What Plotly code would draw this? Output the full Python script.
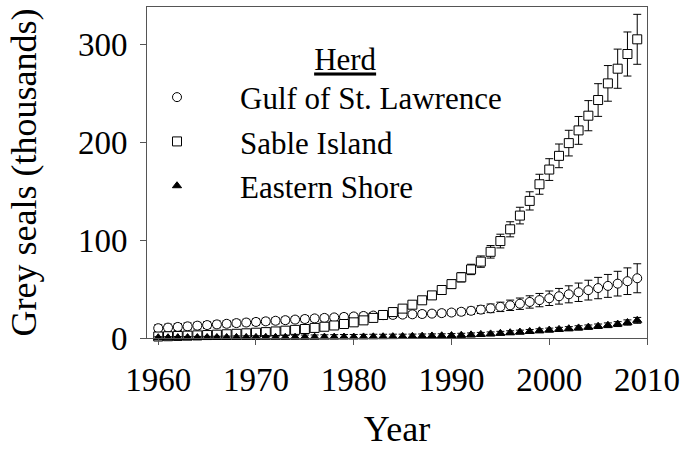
import plotly.graph_objects as go

years = list(range(1960, 2010))

gulf = [10.0, 10.6, 11.3, 11.9, 12.6, 13.2, 13.9, 14.5, 15.2, 15.8,
        16.4, 17.0, 17.6, 18.2, 18.8, 19.4, 20.0, 20.5, 21.0, 21.5,
        22.0, 22.5, 22.9, 23.3, 23.6, 23.9, 24.2, 24.5, 24.9, 25.4,
        26.0, 26.8, 27.8, 29.0, 30.3, 31.8, 33.4, 35.0, 36.8, 38.7,
        40.6, 42.6, 44.6, 46.7, 48.9, 51.0, 53.2, 55.5, 58.0, 61.0]
gulf_err = [3.5, 3.5, 3.5, 3.5, 3.4, 3.4, 3.4, 3.3, 3.3, 3.3,
            3.2, 3.2, 3.2, 3.1, 3.1, 3.1, 3.0, 3.0, 3.0, 3.0,
            3.0, 3.0, 3.0, 3.0, 3.0, 3.0, 3.0, 3.0, 3.0, 3.0,
            3.1, 3.3, 3.6, 4.0, 4.4, 4.8, 5.3, 5.8, 6.3, 6.8,
            7.4, 8.0, 8.7, 9.4, 10.1, 10.9, 11.7, 12.6, 13.6, 14.8]

sable = [1.5, 1.8, 2.1, 2.4, 2.7, 3.0, 3.4, 3.8, 4.3, 4.8,
         5.4, 6.0, 6.7, 7.5, 8.3, 9.2, 10.3, 11.5, 12.8, 14.3,
         16.0, 18.0, 20.5, 23.5, 26.5, 30.0, 34.0, 38.5, 43.5, 49.0,
         55.0, 62.0, 70.0, 78.0, 88.0, 99.0, 111.0, 125.0, 140.0, 157.0,
         172.0, 186.0, 199.0, 212.0, 227.0, 243.0, 260.0, 275.0, 290.0, 305.0]
sable_err = [0.5, 0.5, 0.6, 0.6, 0.7, 0.7, 0.8, 0.8, 0.9, 0.9,
             1.0, 1.0, 1.1, 1.1, 1.2, 1.2, 1.3, 1.4, 1.5, 1.6,
             1.7, 1.8, 2.0, 2.2, 2.4, 2.6, 2.8, 3.1, 3.5, 3.9,
             4.3, 4.8, 5.3, 5.8, 6.4, 7.0, 7.7, 8.5, 9.3, 10.2,
             11.1, 12.1, 13.1, 14.2, 15.4, 16.7, 18.2, 20.0, 22.5, 25.5]

eastern = [0.3, 0.3, 0.4, 0.4, 0.4, 0.5, 0.5, 0.5, 0.6, 0.6,
           0.6, 0.7, 0.7, 0.7, 0.8, 0.8, 0.8, 0.9, 0.9, 1.0,
           1.0, 1.1, 1.2, 1.3, 1.4, 1.5, 1.7, 1.9, 2.1, 2.3,
           2.5, 2.8, 3.2, 3.7, 4.2, 4.8, 5.4, 6.0, 6.7, 7.4,
           8.1, 8.8, 9.5, 10.3, 11.1, 12.0, 13.0, 14.2, 15.8, 18.0]
eastern_err = [1.0, 1.0, 1.1, 1.1, 1.2, 1.2, 1.3, 1.4, 1.5, 1.6,
               1.7, 1.8, 1.9, 2.0, 2.1, 2.2, 2.3, 2.4, 2.5, 2.6,
               2.6, 2.6, 2.6, 2.5, 2.5, 2.4, 2.3, 2.2, 2.1, 2.0,
               2.0, 2.0, 2.0, 2.0, 2.0, 2.0, 2.0, 2.0, 2.0, 2.0,
               2.0, 2.1, 2.1, 2.2, 2.2, 2.3, 2.4, 2.5, 2.7, 3.0]

series_names = ["Gulf of St. Lawrence", "Sable Island", "Eastern Shore"]
legend_title = "Herd"
x_title = "Year"
y_title = "Grey seals (thousands)"
x_ticks = [1960, 1970, 1980, 1990, 2000, 2010]
y_ticks = [0, 100, 200, 300]

FONT = "Liberation Serif, Times New Roman, serif"

fig = go.Figure()

def add(name, y, err, symbol, fill, size, grp):
    fig.add_trace(go.Scatter(
        x=years, y=y, name=name, mode="markers",
        legendgroup=grp,
        marker=dict(symbol=symbol, size=size, color=fill,
                    line=dict(color="black", width=1)),
        error_y=dict(type="data", array=err, visible=True,
                     color="black", thickness=1, width=4),
        cliponaxis=False,
    ))

add(series_names[0], gulf, gulf_err, "circle", "white", 9, "g1")
add(series_names[1], sable, sable_err, "square", "white", 9, "g2")
add(series_names[2], eastern, eastern_err, "triangle-up", "black", 8, "g3")

axis_common = dict(
    showline=True, linecolor="#555", linewidth=1, mirror=True,
    ticks="outside", ticklen=6, tickcolor="#555", tickwidth=1,
    showgrid=False, zeroline=False, automargin=False,
    tickfont=dict(family=FONT, size=33, color="black"),
)

fig.update_layout(
    width=686, height=449,
    margin=dict(l=147, r=39, t=7, b=111),
    paper_bgcolor="white", plot_bgcolor="white",
    font=dict(family=FONT, color="black"),
    xaxis=dict(range=[1958.85, 2010], tickvals=x_ticks, ticklabelstandoff=6,
               title=dict(text=x_title, font=dict(family=FONT, size=36), standoff=24),
               **axis_common),
    yaxis=dict(range=[0, 338], tickvals=y_ticks, ticklabelstandoff=6,
               title=dict(text=y_title, font=dict(family=FONT, size=36), standoff=30),
               **axis_common),
    showlegend=True,
    legend=dict(
        x=-0.066, y=0.93, xanchor="left", yanchor="top",
        bgcolor="rgba(0,0,0,0)",
        font=dict(family=FONT, size=31, color="black"),
        title=dict(text="\u00a0" * 9 + "<u>" + legend_title + "</u>", side="top center",
                   font=dict(family=FONT, size=31, color="black")),
        itemwidth=116, tracegroupgap=1,
    ),
)

fig.write_html("out.html", config={"displayModeBar": False},
               post_script="document.body.style.margin='0';")
